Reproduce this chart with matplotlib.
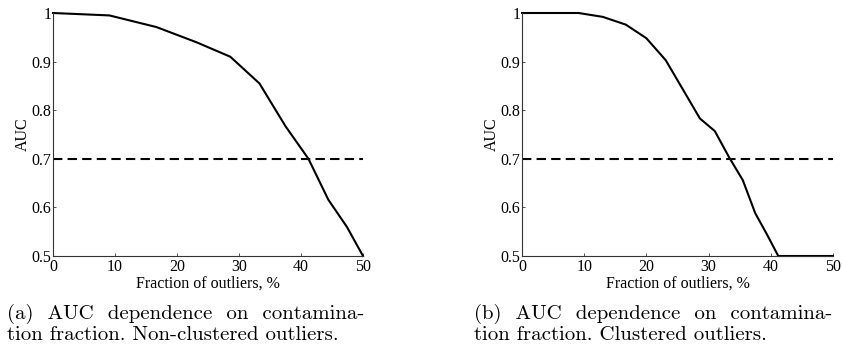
import numpy as np
import matplotlib
matplotlib.use('Agg')
import matplotlib.pyplot as plt

# === Data ===
# (a) non-clustered outliers
frac_a = [0, 9.1, 16.7, 23.1, 28.6, 33.3, 37.5, 41.2, 44.4, 47.4, 50.0]
auc_a = [1.0, 0.995, 0.971, 0.940, 0.910, 0.855, 0.767, 0.700, 0.616, 0.560, 0.500]

# (b) clustered outliers
frac_b = [0, 4.8, 9.1, 13.0, 16.7, 20.0, 23.1, 25.9, 28.6, 31.0, 33.3, 35.5,
          37.5, 39.4, 41.2, 42.9, 44.4, 45.9, 47.4, 48.7, 50.0]
auc_b = [1.0, 1.0, 1.0, 0.992, 0.976, 0.948, 0.903, 0.842, 0.783, 0.757, 0.703, 0.656,
         0.588, 0.544, 0.500, 0.500, 0.500, 0.500, 0.500, 0.500, 0.500]

threshold = 0.7
xticks = [0, 10, 20, 30, 40, 50]
yticks = [0.5, 0.6, 0.7, 0.8, 0.9, 1.0]
ytick_labels = ['0.5', '0.6', '0.7', '0.8', '0.9', '1']

captions = [
    ['(a)  AUC  dependence  on  contamina-', 'tion fraction. Non-clustered outliers.'],
    ['(b)  AUC  dependence  on  contamina-', 'tion fraction. Clustered outliers.'],
]

# === Figure ===
W, H = 842, 349
fig = plt.figure(figsize=(W / 100, H / 100), dpi=100)

tick_font = dict(family='Liberation Serif', size=11.5)
cap_font = dict(family='cmr10', size=15)

axes_px = [(53, 363), (522, 833)]  # left/right edges in pixels
top_px, bot_px = 13, 256
cap_x = [7, 474]

for n, (frac, auc) in enumerate([(frac_a, auc_a), (frac_b, auc_b)]):
    x0, x1 = axes_px[n]
    ax = fig.add_axes([x0 / W, 1 - bot_px / H, (x1 - x0) / W, (bot_px - top_px) / H])
    ax.plot(frac, auc, color='black', lw=1.5, solid_joinstyle='round', clip_on=False)
    ax.plot([0, 50], [threshold, threshold], color='black', lw=1.5,
            dashes=(4.5, 2.5))
    ax.set_xlim(0, 50)
    ax.set_ylim(0.5, 1.0)
    ax.set_xticks(xticks)
    ax.set_yticks(yticks)
    ax.set_yticklabels(ytick_labels)
    for s in ['top', 'right']:
        ax.spines[s].set_visible(False)
    for s in ['left', 'bottom']:
        ax.spines[s].set_linewidth(0.8)
        ax.spines[s].set_color('#333333')
    ax.tick_params(direction='in', length=2.5, width=0.6, color='#333333')
    ax.tick_params(axis='x', pad=2)
    ax.tick_params(axis='y', pad=1)
    for lab in ax.get_xticklabels() + ax.get_yticklabels():
        lab.set_fontfamily('Liberation Serif')
        lab.set_fontsize(11.5)
    ax.set_xlabel('Fraction of outliers, %', labelpad=0.5, **tick_font)
    ax.set_ylabel('AUC', labelpad=1, **tick_font)
    ax.patch.set_visible(False)

    fig.text(cap_x[n] / W, 1 - 319 / H, captions[n][0], ha='left', va='baseline', **cap_font)
    fig.text(cap_x[n] / W, 1 - 340 / H, captions[n][1], ha='left', va='baseline', **cap_font)

plt.savefig('out.png', dpi=100)
